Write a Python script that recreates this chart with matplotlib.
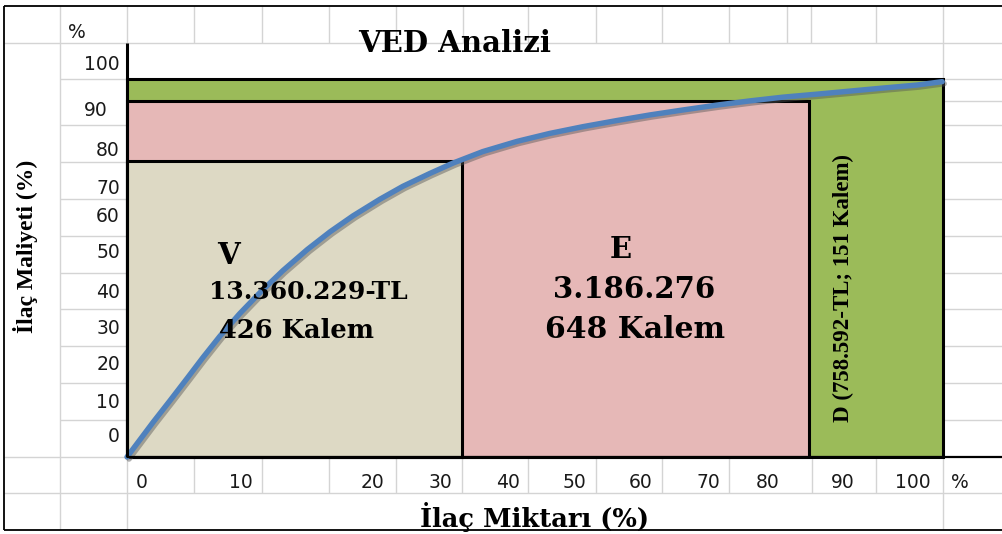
import matplotlib
matplotlib.use("Agg")
import matplotlib.pyplot as plt
import matplotlib.patheffects as pe

# ---------------- data ----------------
title = "VED Analizi"
x_label = "İlaç Miktarı (%)"
y_label = "İlaç Maliyeti (%)"

groups = ["V", "E", "D"]
group_item_pct_end = [41.0, 83.6, 100.0]   # cumulative % of items (as drawn)
group_cost_pct_end = [78.3, 94.2, 100.0]   # cumulative % of cost (as drawn)
group_colors = ["#DDD9C4", "#E6B8B7", "#9BBB59"]

v_lines = ["V", "13.360.229-TL", "426 Kalem"]
e_lines = ["E", "3.186.276", "648 Kalem"]
d_text = "D (758.592-TL; 151 Kalem)"

curve_x = [0, 1.6, 3.2, 5.3, 7.4, 9.3, 11.4, 13.8, 16.3, 19.1, 22.1, 24.9,
           27.7, 31.0, 33.8, 37.1, 40.0, 43.6, 47.8, 51.8, 55.9, 60.0, 64.1,
           68.1, 72.3, 76.3, 80.4, 84.6, 88.6, 92.6, 96.8, 99.9]
curve_y = [0, 4.6, 9.2, 15.0, 20.9, 26.3, 32.0, 37.9, 43.5, 49.3, 54.9, 59.6,
           63.8, 68.2, 71.6, 75.0, 77.8, 80.8, 83.5, 85.6, 87.4, 89.0, 90.5,
           91.8, 93.1, 94.2, 95.2, 96.0, 96.8, 97.6, 98.4, 99.3]

y_tick_labels = ["100", "90", "80", "70", "60", "50", "40", "30", "20", "10", "0"]
x_tick_labels = ["0", "10", "20", "30", "40", "50", "60", "70", "80", "90", "100", "%"]

# ---------------- layout (pixel positions of the sheet) ----------------
W, H = 1002, 534
fig = plt.figure(figsize=(W / 100, H / 100), dpi=100)
bg = fig.add_axes([0, 0, 1, 1])
bg.set_xlim(0, W)
bg.set_ylim(H, 0)
bg.axis("off")

GRID = "#d4d4d4"
gl = dict(color=GRID, lw=1.0, zorder=1)

# horizontal cell lines
bg.hlines(43, 4, W, **gl)
bg.hlines(493, 4, W, **gl)
bg.hlines(457, 4, 127, **gl)
for yy in [79, 125, 162, 199, 236, 273, 309, 346, 383, 420]:
    bg.hlines(yy, 60, 127, **gl)
    bg.hlines(yy, 943, W, **gl)
bg.hlines(101, 943, W, **gl)

# vertical cell lines
bg.vlines(60, 6, 529, **gl)
bg.vlines(127, 6, 43, **gl)
bg.vlines(127, 457, 529, **gl)
bg.vlines(943, 6, 529, **gl)
for xx in [194, 262, 329, 396, 463, 528, 596, 662, 729, 787, 811, 876]:
    bg.vlines(xx, 6, 43, **gl)
for xx in [194, 262, 329, 396, 462, 528, 596, 662, 729, 812, 876]:
    bg.vlines(xx, 457, 493, **gl)

# ---------------- data axes ----------------
ax = fig.add_axes([127 / W, (H - 457) / H, 816 / W, 378 / H])
ax.set_xlim(0, 100)
ax.set_ylim(0, 100)
ax.axis("off")

for xe, ye, c in reversed(list(zip(group_item_pct_end, group_cost_pct_end, group_colors))):
    ax.bar(0, ye, width=xe, align="edge", color=c, edgecolor="black",
           linewidth=2.2, zorder=2, clip_on=False)

ax.plot(curve_x, curve_y, color="#4F81BD", lw=3.9, solid_capstyle="round",
        solid_joinstyle="round", zorder=5, clip_on=False,
        path_effects=[pe.SimpleLineShadow(offset=(1.5, -1.5), shadow_color="#555555", alpha=0.45),
                      pe.Normal()])

# ---------------- overlay for black lines and texts ----------------
tx = fig.add_axes([0, 0, 1, 1])
tx.set_xlim(0, W)
tx.set_ylim(H, 0)
tx.axis("off")

# outer black border
tx.hlines(6, 4, W, color="black", lw=1.3, zorder=2)
tx.hlines(530, 4, W, color="black", lw=1.3, zorder=2)
tx.vlines(4, 6, 530, color="black", lw=1.3, zorder=2)
# axis lines
tx.hlines(457, 127, W, color="black", lw=1.6, zorder=2)
tx.vlines(127, 43, 457, color="black", lw=2.2, zorder=6)

serif_w = "DejaVu Serif"
tx.text(455, 44, title, fontsize=21, fontweight="bold", family=serif_w,
        ha="center", va="center", zorder=7)

tx.text(229, 255, v_lines[0], fontsize=21, fontweight="bold", family=serif_w,
        ha="center", va="center", zorder=7)
tx.text(308, 292, v_lines[1], fontsize=18, fontweight="bold", family=serif_w,
        ha="center", va="center", zorder=7)
tx.text(297, 330, v_lines[2], fontsize=18.5, fontweight="bold", family=serif_w,
        ha="center", va="center", zorder=7)

tx.text(621, 249, e_lines[0], fontsize=21, fontweight="bold", family=serif_w,
        ha="center", va="center", zorder=7)
tx.text(634, 289, e_lines[1], fontsize=21, fontweight="bold", family=serif_w,
        ha="center", va="center", zorder=7)
tx.text(635, 330, e_lines[2], fontsize=21.5, fontweight="bold", family=serif_w,
        ha="center", va="center", zorder=7)

tx.text(843, 288, d_text, fontsize=16.5, fontweight="bold", family="Liberation Serif",
        rotation=90, ha="center", va="center", zorder=7)

tx.text(26, 246, y_label, fontsize=17, fontweight="bold", family="Liberation Serif",
        rotation=90, ha="center", va="center", zorder=7)
tx.text(535, 517, x_label, fontsize=18.5, fontweight="bold", family=serif_w,
        ha="center", va="center", zorder=7)

# tick labels in the sheet cells
tick_font = dict(fontsize=13.5, family="DejaVu Sans", color="#1a1a1a", zorder=7)
y_tick_pos = [(120, 65), (108, 110), (120, 150), (120, 188), (120, 217), (120, 253),
              (120, 292), (120, 328), (120, 364), (120, 402), (120, 437)]
for lab, (px, py) in zip(y_tick_labels, y_tick_pos):
    tx.text(px, py, lab, ha="right", va="center", **tick_font)
tx.text(68, 32, "%", ha="left", va="center", **tick_font)

x_tick_pos = [142, 241, 373, 440, 508, 574, 641, 708, 768, 843, 913, 960]
for lab, px in zip(x_tick_labels, x_tick_pos):
    tx.text(px, 483, lab, ha="center", va="center", **tick_font)

fig.savefig("out.png", dpi=100)
